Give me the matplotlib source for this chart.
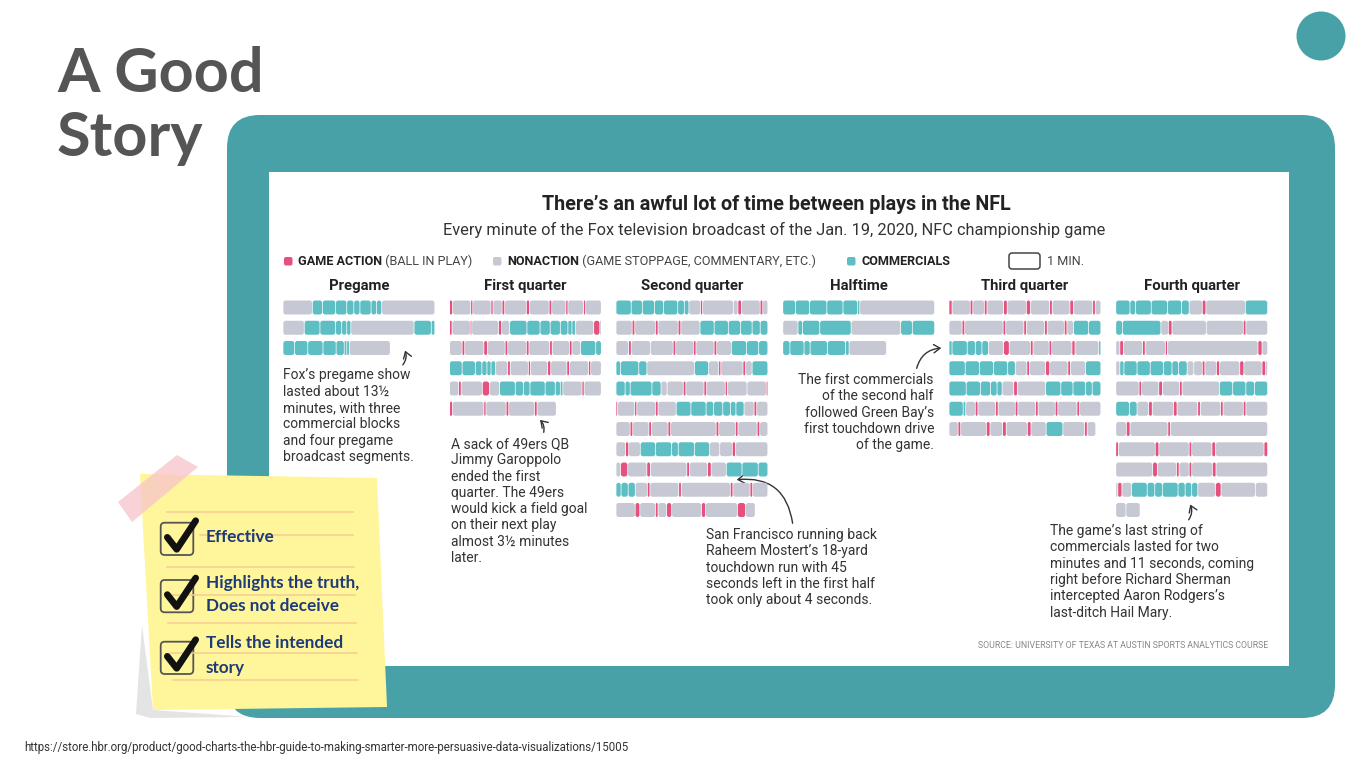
import matplotlib
matplotlib.use("Agg")
import matplotlib.pyplot as plt
from matplotlib.patches import FancyBboxPatch, Polygon, Circle, FancyArrowPatch, Rectangle
from matplotlib.lines import Line2D

# ---------------- data (seconds per segment; A=game action, N=nonaction, C=commercial) -------------
COLUMN_NAMES = ["Pregame", "First quarter", "Second quarter", "Halftime", "Third quarter", "Fourth quarter"]

PREGAME = [
    "N58 C20 C26 C22 C14 C12 C22 C11 C10 N105",
    "N42 C31 C31 C12 C10 C8 N125 C34 C7",
    "C23 C26 C30 C26 C16 C5 C5 N81",
]
FIRST_Q = [
    "A6 N36 A4 N36 A4 N18 A5 N43 A6 N39 A5 N28 A4 N31 A4 N31",
    "A5 N36 A3 N53 A6 N16 C34 C26 C20 C20 C15 C8 C7 N36 A12 N3",
    "N25 A5 N38 A7 N35 A5 N37 A5 N41 A5 N34 A5 N17 C30 C11",
    "C25 C26 C13 C10 C8 C9 N24 A5 N36 A4 N34 A6 N32 A5 N38 A4 N21",
    "N18 A5 N42 A14 N20 C31 C16 C13 C30 C20 C10 C5 N38 A4 N34",
    "A6 N62 A4 N40 A5 N51 A5 N38",
]
SECOND_Q = [
    "C30 C22 C24 C18 C28 C13 C9 N23 A4 N61 N9 A7 N37 A5 N10",
    "N32 A5 N41 A5 N40 A5 N38 C28 C28 C24 C23 C16 C15",
    "N25 A5 N38 N45 A5 N35 A5 N36 A5 N29 C30 C24 C18",
    "C9 C36 C16 N94 C28 N20 A4 N44 A5 N13 C31",
    "C18 C10 C43 C18 N12 N32 A5 N36 A5 N37 A4 N39 N38 A3",
    "A3 N34 A4 N37 A5 N36 C29 C30 C15 C18 C15 C11 C16 N20 A5 N22",
    "N28 A5 N32 A5 N33 A5 N90 A5 N33 A5 N38 A5 N16",
    "N19 A6 N23 C30 C32 C13 C32 C30 N20 N25 A6 N64",
    "N9 A14 N38 A7 N72 A5 N36 A7 N30 C31 C32 C19",
    "C10 C14 C14 N24 A5 N57 A5 N97 A5 N34 A5 N30",
    "N38 A9 N31 A5 N17 A10 N59 A8 N63 A16 N19",
]
HALFTIME = [
    "C25 C28 C34 C32 C29 C4 N148",
    "N30 C9 C34 C62 N98 C23 C44",
    "C14 C28 C12 C34 C36 C7 N74",
]
THIRD_Q = [
    "A6 N36 A5 N23 A5 N33 A7 N38 A8 N38 A5 N35 A7 N38 A5 N11",
    "N26 A5 N76 A5 N36 A5 N36 A5 N34 A5 N13 C30 C24",
    "C6 C30 C16 C13 C13 N30 A11 N42 A5 N32 A5 N40 A6 N47 C4",
    "C32 C28 C28 C28 C15 N23 A5 N32 A8 N36 A5 N30 C30",
    "C34 C28 C20 C13 C10 N23 A7 N56 C30 C24 C25 C13 C17",
    "C28 C5 N19 A5 N35 A5 N34 A5 N35 A5 N34 A5 N38 A5 N42",
    "N18 A5 N51 A7 N25 A7 N42 A7 N30 C33 N43 A5 N17",
]
FOURTH_Q = [
    "C28 C11 C31 C32 C28 C15 N26 A7 N78 C44",
    "C13 C76 N15 A7 N68 N73 A5 N43",
    "N8 A7 N38 A5 N40 A4 N179 A8 N11",
    "N8 C8 C26 C26 C26 C17 C13 C17 N13 N17 A5 N23 A6 N40 A8 N36 A7 N4",
    "N46 A5 N34 A7 N34 A5 N74 C26 C26 C17 C26",
    "C27 C15 N23 A7 N42 A7 N41 A5 N40 A5 N40 A5 N43",
    "N21 A7 N75 A5 N192",
    "A5 N73 A7 N60 A5 N40 A7 N96 A7",
    "N73 A9 N38 A5 N20 A5 N41 A7 N102",
    "N4 A8 N19 C31 C15 C15 C31 C14 C13 C12 N35 A11 N68 N24",
    "N20 N28",
]
COLUMNS = [PREGAME, FIRST_Q, SECOND_Q, HALFTIME, THIRD_Q, FOURTH_Q]
ROW_SECONDS = 300

LEGEND = [("GAME ACTION", " (BALL IN PLAY)", "A"),
          ("NONACTION", " (GAME STOPPAGE, COMMENTARY, ETC.)", "N"),
          ("COMMERCIALS", "", "C")]

NOTES = [
    ["Fox\u2019s pregame show", "lasted about 13\u00bd", "minutes, with three",
     "commercial blocks", "and four pregame", "broadcast segments."],
    ["A sack of 49ers QB", "Jimmy Garoppolo", "ended the first", "quarter. The 49ers",
     "would kick a field goal", "on their next play", "almost 3\u00bd minutes", "later."],
    ["San Francisco running back", "Raheem Mostert\u2019s 18-yard", "touchdown run with 45",
     "seconds left in the first half", "took only about 4 seconds."],
    ["The first commercials", "of the second half", "followed Green Bay\u2019s",
     "first touchdown drive", "of the game."],
    ["The game\u2019s last string of", "commercials lasted for two",
     "minutes and 11 seconds, coming", "right before Richard Sherman",
     "intercepted Aaron Rodgers\u2019s", "last-ditch Hail Mary."],
]
CHECK_ITEMS = [["Effective"], ["Highlights the truth,", "Does not deceive"], ["Tells the intended", "story"]]

# ---------------- style ----------------
W, H = 1372, 770
TEAL = "#49A1A8"
SEG_COLORS = {"A": "#E6507F", "N": "#C6C9D3", "C": "#5DBEC4"}
TXT = "#333333"
FONT = "Roboto"

fig = plt.figure(figsize=(W / 100, H / 100), dpi=100)
bg = fig.add_axes([0, 0, 1, 1])
bg.set_xlim(0, W)
bg.set_ylim(H, 0)
bg.axis("off")

# slide title
bg.text(57, 92, "A Good", fontsize=44, fontfamily="Lato", fontweight="bold", color="#555555", va="baseline")
bg.text(57, 156, "Story", fontsize=44, fontfamily="Lato", fontweight="bold", color="#555555", va="baseline")
bg.add_patch(Circle((1321, 36), 24.5, fc=TEAL, ec="none"))

# teal frame and white panel
bg.add_patch(FancyBboxPatch((227, 115), 1108, 603, boxstyle="round,pad=0,rounding_size=33", fc=TEAL, ec="none"))
bg.add_patch(Rectangle((269, 172), 1020, 494, fc="white", ec="none"))

# chart title
bg.text(776, 204, "There\u2019s an awful lot of time between plays in the NFL", fontsize=14.2,
        fontfamily=FONT, fontweight="bold", color="#222222", ha="center", va="center")
bg.text(774, 230, "Every minute of the Fox television broadcast of the Jan. 19, 2020, NFC championship game",
        fontsize=11.8, fontfamily=FONT, color="#333333", ha="center", va="center")

fig.canvas.draw()
renderer = fig.canvas.get_renderer()

# legend
leg_x = [284, 493, 847]
for (bold, rest, key), x in zip(LEGEND, leg_x):
    bg.add_patch(FancyBboxPatch((x, 257), 8.5, 8.5, boxstyle="round,pad=0,rounding_size=2",
                                fc=SEG_COLORS[key], ec="none"))
    t = bg.text(x + 14, 261.5, bold, fontsize=9.1, fontfamily=FONT, fontweight="bold", color="#222222", va="center")
    if rest:
        bb = t.get_window_extent(renderer)
        bg.text(bb.x1, 261.5, rest, fontsize=9.1, fontfamily=FONT, color="#444444", va="center")
bg.add_patch(FancyBboxPatch((1009, 253), 31, 16, boxstyle="round,pad=0,rounding_size=3",
                            fc="white", ec="#444444", lw=1.1))
bg.text(1047, 261.5, "1 MIN.", fontsize=9.1, fontfamily=FONT, color="#444444", va="center")

# columns of minute strips
COL_LEFT = [283, 449.5, 616, 782.8, 949, 1115.8]
COL_W = 151.8
ROW_STEP = 20.25
FIRST_ROW = 307.5
N_MAX = 11
ROW_H = 0.69
GAP = 1.4
RAD = 4.6
ASP = (COL_W / ROW_SECONDS) / ROW_STEP

for name, rows, left in zip(COLUMN_NAMES, COLUMNS, COL_LEFT):
    bg.text(left + COL_W / 2, 286, name, fontsize=10.7, fontfamily=FONT, fontweight="bold",
            color="#222222", ha="center", va="center")
    top = FIRST_ROW - ROW_STEP / 2
    ax = fig.add_axes([left / W, 1 - (top + N_MAX * ROW_STEP) / H, COL_W / W, N_MAX * ROW_STEP / H])
    ax.set_xlim(0, ROW_SECONDS)
    ax.set_ylim(N_MAX - 0.5, -0.5)
    ax.axis("off")
    for r, row in enumerate(rows):
        t0 = 0.0
        for tok in row.split():
            kind, dur = tok[0], float(tok[1:])
            w = dur - GAP
            rad = min(RAD, w / 2, (ROW_H / 2) / ASP)
            ax.add_patch(FancyBboxPatch((t0 + GAP / 2, r - ROW_H / 2), w, ROW_H,
                                        boxstyle=f"round,pad=0,rounding_size={rad}",
                                        mutation_aspect=ASP, fc=SEG_COLORS[kind], ec="none"))
            t0 += dur

# annotations
def lines(x, y0, txt, ha="left", step=16.3, size=10):
    for i, s in enumerate(txt):
        bg.text(x, y0 + i * step, s, fontsize=size, fontfamily=FONT, color=TXT, ha=ha, va="center")

lines(283, 375.5, NOTES[0])
lines(451, 444, NOTES[1])
lines(706, 535, NOTES[2])
lines(934, 380, NOTES[3], ha="right")
lines(1050, 531, NOTES[4])
bg.text(1268, 645, "SOURCE: UNIVERSITY OF TEXAS AT AUSTIN SPORTS ANALYTICS COURSE", fontsize=6.3,
        fontfamily=FONT, color="#888888", ha="right", va="center")

def arrow(a, b, rad):
    bg.add_patch(FancyArrowPatch(a, b, connectionstyle=f"arc3,rad={rad}",
                                 arrowstyle="->,head_length=0.45,head_width=0.3", mutation_scale=10,
                                 lw=1.0, color="#333333"))

arrow((401, 367), (404, 348), 0.35)
arrow((543, 435), (538, 418), 0.35)
arrow((793, 526), (734, 480), 0.5)
arrow((916, 371), (944, 348), -0.4)
arrow((1187, 522), (1189, 502), 0.35)

# sticky note
bg.add_patch(Polygon([(142, 625), (136, 714), (150, 718), (250, 717), (153, 710)], closed=True,
                     fc="#E4E4E4", ec="none"))
bg.add_patch(Polygon([(140, 474), (377, 478), (387, 707), (153, 710)], closed=True, fc="#FFF69B", ec="none"))
bg.add_patch(Polygon([(118, 502), (177, 455), (198, 467), (132, 522)], closed=True,
                     fc="#F7C3CB", ec="none", alpha=0.75))
for y, x0, x1 in [(512, 167, 353), (535, 200, 353), (567, 167, 354), (595, 168, 355),
                  (623, 168, 356), (653, 170, 357), (680, 173, 358)]:
    bg.add_line(Line2D([x0, x1], [y, y], color="#F7CC93", lw=1.1))

box_tops = [522.7, 580, 641.7]
text_y = [[537], [583, 606], [643, 668]]
for top, items, ys in zip(box_tops, CHECK_ITEMS, text_y):
    bx = 160.7
    bg.add_patch(FancyBboxPatch((bx, top), 32.6, 32.3, boxstyle="round,pad=0,rounding_size=4",
                                fc="none", ec="#555555", lw=1.3))
    bg.add_line(Line2D([bx + 6.6, bx + 16, bx + 35], [top + 14.6, top + 26.6, top - 2],
                       color="#111111", lw=4.8, solid_capstyle="round", solid_joinstyle="round"))
    for s, y in zip(items, ys):
        bg.text(206, y, s, fontsize=12.3, fontfamily="Lato", fontweight="bold", color="#1E3A78", va="center")

bg.text(24, 748, "https://store.hbr.org/product/good-charts-the-hbr-guide-to-making-smarter-more-persuasive-data-visualizations/15005",
        fontsize=8.3, fontfamily=FONT, color="#333333", va="center")

fig.savefig("out.png", dpi=100)
